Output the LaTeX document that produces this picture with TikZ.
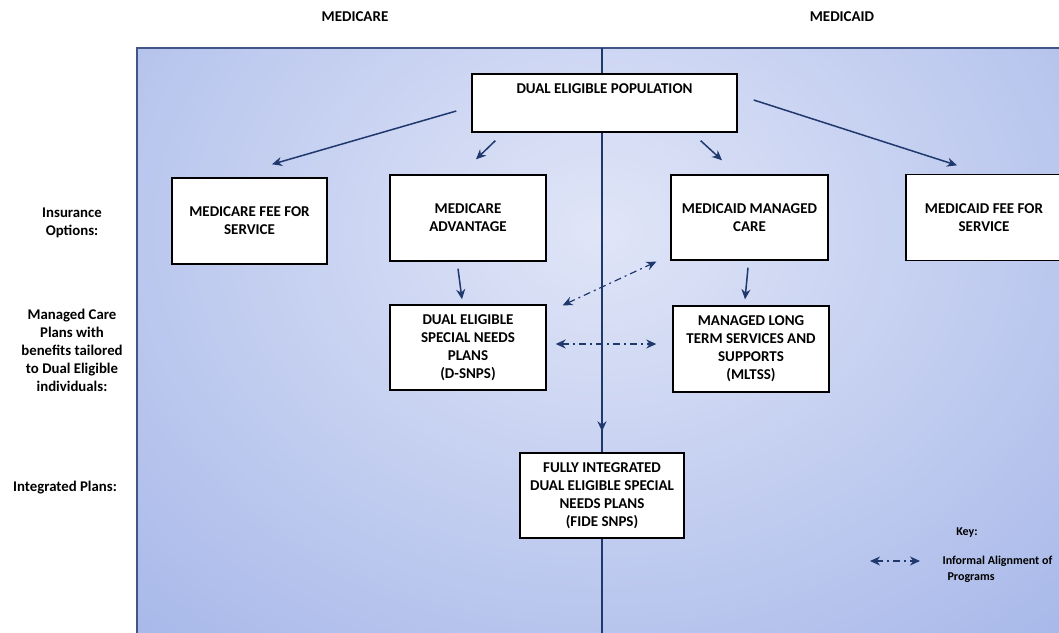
\documentclass[tikz,border=0pt]{standalone}
\usepackage{fontspec}
\setmainfont{Carlito}
\usetikzlibrary{arrows.meta,calc,backgrounds}
\definecolor{navy}{RGB}{31,56,110}
\definecolor{panelin}{RGB}{224,229,247}
\definecolor{panelout}{RGB}{142,164,227}
\begin{document}
\begin{tikzpicture}[x=1pt,y=-1pt,
  box/.style={draw=black, line width=1.4pt, fill=white, align=center,
    font=\fontsize{15}{18}\selectfont\bfseries, inner sep=0pt},
  lbl/.style={align=center, font=\fontsize{14.8}{18}\selectfont\bfseries},
  keytxt/.style={align=left, font=\fontsize{12}{16}\selectfont\bfseries},
  arr/.style={navy, line width=1.5pt, -{Stealth[length=10pt,width=9pt]}},
  inf/.style={navy, line width=1.2pt, dash pattern=on 7pt off 4pt on 2pt off 4pt,
    {Stealth[length=10pt,width=9pt]}-{Stealth[length=10pt,width=9pt]}}]
\useasboundingbox (0,0) rectangle (1059,632);
\clip (0,0) rectangle (1059,632);

% headers
\node[lbl, font=\fontsize{15}{18}\selectfont\bfseries] (hmcare) at (355,17) {MEDICARE};
\node[lbl, font=\fontsize{15}{18}\selectfont\bfseries] (hmcaid) at (842,17) {MEDICAID};

% row labels
\node[lbl] (lins) at (72,222.5) {Insurance\\Options:};
\node[lbl] (lman) at (72,350) {Managed Care\\Plans with\\benefits tailored\\to Dual Eligible\\individuals:};
\node[lbl] (lint) at (65,488) {Integrated Plans:};

% boxes
\node[box, minimum width=265, minimum height=58] (dep) at (604.5,103) {};
\node[lbl, font=\fontsize{15}{18}\selectfont\bfseries] (deptxt) at (604.5,89) {DUAL ELIGIBLE POPULATION};
\node[box, minimum width=155, minimum height=86] (mffs) at (249.5,221) {MEDICARE FEE FOR\\SERVICE};
\node[box, minimum width=156, minimum height=86] (ma) at (468,218) {MEDICARE\\ADVANTAGE};
\node[box, minimum width=157, minimum height=85] (mmc) at (749.5,217.5) {MEDICAID MANAGED\\CARE};
\node[box, minimum width=156, minimum height=86] (mdffs) at (984,217.5) {MEDICAID FEE FOR\\SERVICE};
\node[box, minimum width=156, minimum height=85] (dsnp) at (468,347.5) {DUAL ELIGIBLE\\SPECIAL NEEDS\\PLANS\\(D-SNPS)};
\node[box, minimum width=156, minimum height=86] (mltss) at (751,349) {MANAGED LONG\\TERM SERVICES AND\\SUPPORTS\\(MLTSS)};
\node[box, minimum width=164, minimum height=85] (fide) at (602,495.5) {FULLY INTEGRATED\\DUAL ELIGIBLE SPECIAL\\NEEDS PLANS\\(FIDE SNPS)};

% panel and divider
\coordinate (vtop) at (602,48);
\coordinate (vbot) at (602,640);
\begin{scope}[on background layer]
  \begin{scope}
    \clip (137,48) rectangle (1070,640);
    \shade[inner color=panelin, outer color=panelout] (-400,-570) rectangle (1600,1030);
  \end{scope}
  \draw[navy!85, line width=1.2pt] (1070,48) -- (137,48) -- (137,640);
  \draw[navy, line width=1.3pt] (vtop) -- (vbot);
  \draw[arr] (vtop) -- ($(fide.north)+(0,-21)$);
\end{scope}

% arrows
\draw[arr] ($(dep.west)+(-15,8)$) -- ($(mffs.north)+(22.5,-13)$);
\draw[arr] ($(dep.south west)+(24,8)$) -- ($(ma.north)+(8,-15)$);
\draw[arr] ($(dep.south east)+(-37,8)$) -- ($(mmc.north)+(-27.5,-14)$);
\draw[arr] ($(dep.east)+(16,-3)$) -- ($(mdffs.north)+(-27,-8.5)$);
\draw[arr] ($(ma.south)+(-10,7)$) -- ($(dsnp.north)+(-6,-5)$);
\draw[arr] ($(mmc.south)+(-1.5,7)$) -- ($(mltss.north)+(-6,-6)$);
\draw[inf] ($(dsnp.north east)+(16,1)$) -- ($(mmc.south west)+(-14,1)$);
\draw[inf] ($(dsnp.east)+(9,-3.5)$) -- ($(mltss.west)+(-16,-5)$);

% key
\node[keytxt] (keyhead) at (967,533) {Key:};
\coordinate (keyA) at (870,561);
\coordinate (keyB) at (920,561);
\draw[inf] (keyA) -- (keyB);
\node[keytxt, anchor=west] (keylbl) at (939,569) {Informal Alignment of\\\hspace*{5pt}Programs};
\end{tikzpicture}
\end{document}
